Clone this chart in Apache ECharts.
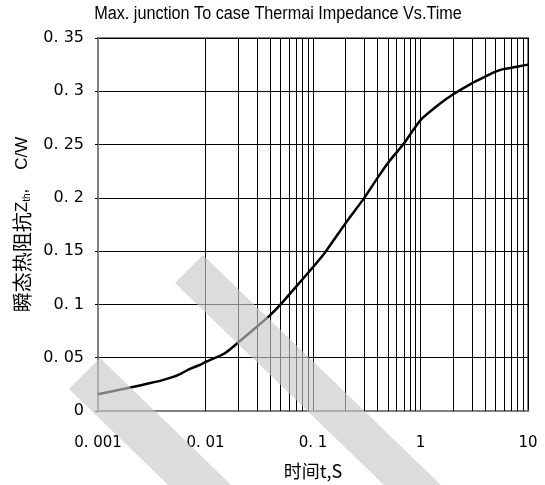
<!DOCTYPE html>
<html>
<head>
<meta charset="utf-8">
<script src="https://cdn.jsdelivr.net/npm/echarts@6/dist/echarts.min.js"></script>
<style>html,body{margin:0;padding:0;background:#fff;}#c{width:545px;height:485px;}</style>
</head>
<body>
<div id="c"></div>
<script>
const timeValues = [0.001, 0.002, 0.003, 0.004, 0.005, 0.006, 0.007, 0.008, 0.009, 0.01, 0.015, 0.02, 0.03, 0.04, 0.05, 0.07, 0.1, 0.13, 0.2, 0.3, 0.4, 0.5, 0.7, 1, 1.5, 2, 3, 4, 5, 6, 7, 10];
const zthValues = [0.0157, 0.022, 0.026, 0.029, 0.032, 0.0354, 0.039, 0.0415, 0.0435, 0.046, 0.054, 0.064, 0.079, 0.09, 0.1, 0.117, 0.135, 0.149, 0.176, 0.2, 0.219, 0.233, 0.251, 0.273, 0.288, 0.297, 0.3075, 0.3137, 0.3184, 0.321, 0.322, 0.325];
const xTickLabels = {0.001: '0. 001', 0.01: '0. 01', 0.1: '0. 1', 1: '1', 10: '10'};
const minorGridValues = [];
[0.001, 0.01, 0.1, 1].forEach(d => { for (let k = 2; k <= 9; k++) minorGridValues.push(+(d * k).toPrecision(3)); });
const titleText = 'Max. junction To case Thermai Impedance Vs.Time';
const xName = '时间t,S';

const chart = echarts.init(document.getElementById('c'));
chart.setOption({
  animation: false,
  backgroundColor: '#fff',
  grid: {left: 98, right: 17, top: 38, bottom: 74, show: true, borderColor: '#808080', borderWidth: 2},
  xAxis: {
    type: 'log', logBase: 10, min: 0.001, max: 10,
    name: xName, nameLocation: 'middle', nameGap: 51,
    nameTextStyle: {fontFamily: 'Noto Sans CJK SC', fontSize: 18, color: '#000'},
    axisLine: {show: true, lineStyle: {color: '#808080', width: 2}},
    axisTick: {show: false},
    axisLabel: {margin: 25, fontFamily: 'DejaVu Sans', fontSize: 15, color: '#000',
      formatter: v => { const k = Object.keys(xTickLabels).find(t => Math.abs(Math.log10(+t) - Math.log10(v)) < 1e-6); return k ? xTickLabels[k] : ''; }},
    splitLine: {show: true, lineStyle: {color: '#000', width: 1}},
    minorTick: {show: false}, minorSplitLine: {show: false}
  },
  yAxis: {
    type: 'value', min: 0, max: 0.35, interval: 0.05,
    name: '{c|瞬态热阻抗}{z|Z}{s|th}{z|,    C/W}', nameLocation: 'middle', nameGap: 64, nameRotate: 90,
    nameTextStyle: {
      color: '#000',
      rich: {
        c: {fontFamily: 'Noto Sans CJK SC', fontSize: 20, color: '#000'},
        z: {fontFamily: 'Liberation Sans', fontSize: 17, color: '#000'},
        s: {fontFamily: 'Liberation Sans', fontSize: 10, color: '#000', verticalAlign: 'bottom', padding: [9, 0, 0, 0]}
      }
    },
    axisLine: {show: true, lineStyle: {color: '#808080', width: 2}},
    axisTick: {show: true, length: 3, inside: false, lineStyle: {color: '#000'}},
    axisLabel: {margin: 14, fontFamily: 'DejaVu Sans', fontSize: 16, color: '#000',
      formatter: v => { const r = Math.round(v * 100) / 100; return r === 0 ? '0' : String(r).replace('.', '. '); }},
    splitLine: {show: true, lineStyle: {color: '#000', width: 1}}
  },
  series: [
    {
      type: 'line', data: timeValues.map((t, i) => [t, zthValues[i]]),
      smooth: 0.2, showSymbol: false, symbol: 'none',
      lineStyle: {color: '#000', width: 2.5}, z: 3,
      markLine: {
        silent: true, symbol: ['none', 'none'], label: {show: false},
        lineStyle: {color: '#000', width: 1, type: 'solid'},
        data: minorGridValues.map(v => ({xAxis: v})), z: 1
      }
    }
  ],
  graphic: [
    {type: 'text', z: 50, x: 278, y: 14, scaleX: 0.9, originX: 0, originY: 0,
      style: {text: titleText, fontFamily: 'Liberation Sans', fontSize: 18, fill: '#000', align: 'center', verticalAlign: 'middle'}},
    {type: 'polygon', z: 100, shape: {points: [[69, 389], [100, 358], [350, 600], [319, 631]]}, style: {fill: 'rgba(200,200,200,0.64)'}},
    {type: 'polygon', z: 100, shape: {points: [[175, 283], [203, 255], [503, 545], [475, 573]]}, style: {fill: 'rgba(200,200,200,0.64)'}}
  ]
});
</script>
</body>
</html>
